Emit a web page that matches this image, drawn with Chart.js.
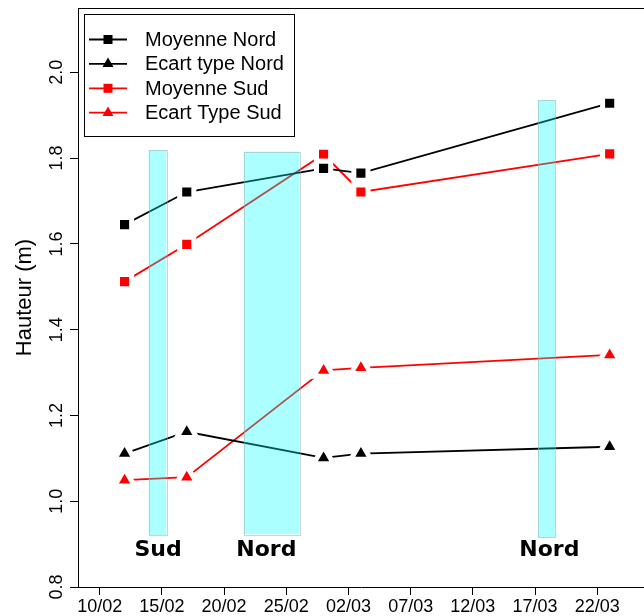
<!DOCTYPE html>
<html>
<head>
<meta charset="utf-8">
<script src="https://cdn.jsdelivr.net/npm/chart.js@4.4.1/dist/chart.umd.min.js"></script>
<style>
  html, body { margin: 0; padding: 0; background: #fff; overflow: hidden; }
  #wrap { width: 644px; height: 616px; }
</style>
</head>
<body>
<div id="wrap"><canvas id="hauteurChart" width="644" height="616"></canvas></div>
<script>
// days counted from 01/02 (so 12/02 = 11, 03/03 = 30)
var days = [11, 16, 27, 30, 50];
var moyenneNord = [1.645, 1.721, 1.776, 1.765, 1.928];
var ecartNord = [1.111, 1.162, 1.101, 1.111, 1.127];
var moyenneSud = [1.512, 1.599, 1.809, 1.721, 1.810];
var ecartSud = [1.049, 1.056, 1.305, 1.311, 1.341];

var xTickDays = [9, 14, 19, 24, 29, 34, 39, 44, 49];
var xTickLabels = ["10/02", "15/02", "20/02", "25/02", "02/03", "07/03", "12/03", "17/03", "22/03"];
var yTicks = [0.8, 1.0, 1.2, 1.4, 1.6, 1.8, 2.0];

// shaded periods
var zoneStart = [12.94, 20.58, 44.23];
var zoneEnd = [14.36, 25.05, 45.63];
var zoneTop = [1.819, 1.815, 1.935];
var zoneBottom = [0.921, 0.923, 0.915];
var zoneLabels = ["Sud", "Nord", "Nord"];
var zoneLabelX = [13.69, 22.4, 45.15];
var zoneLabelY = 0.886;

function pts(ys) {
  return days.map(function (d, i) { return { x: d, y: ys[i] }; });
}

function serie(label, ys, color, style, radius) {
  return {
    label: label,
    data: pts(ys),
    borderColor: color,
    backgroundColor: color,
    borderWidth: 1.8,
    pointStyle: style,
    pointRadius: radius,
    pointBackgroundColor: color,
    pointBorderColor: "#fff",
    pointBorderWidth: 5,
    tension: 0,
  };
}

// cyan zones drawn over the lines, with their labels
var zonesPlugin = {
  id: "zones",
  afterDatasetsDraw: function (chart) {
    var ctx = chart.ctx, x = chart.scales.x, y = chart.scales.y;
    ctx.save();
    for (var i = 0; i < zoneStart.length; i++) {
      var x0 = x.getPixelForValue(zoneStart[i]);
      var x1 = x.getPixelForValue(zoneEnd[i]);
      var y0 = y.getPixelForValue(zoneTop[i]);
      var y1 = y.getPixelForValue(zoneBottom[i]);
      ctx.fillStyle = "rgba(0, 255, 255, 0.33)";
      ctx.fillRect(x0, y0, x1 - x0, y1 - y0);
      ctx.setLineDash([1, 1]);
      ctx.strokeStyle = "#9aa";
      ctx.lineWidth = 1;
      ctx.strokeRect(Math.round(x0) + 0.5, Math.round(y0) + 0.5, Math.round(x1 - x0), Math.round(y1 - y0));
      ctx.setLineDash([]);
      ctx.fillStyle = "#000";
      ctx.font = "bold 22px 'DejaVu Sans'";
      ctx.textAlign = "center";
      ctx.textBaseline = "middle";
      ctx.fillText(zoneLabels[i], x.getPixelForValue(zoneLabelX[i]), y.getPixelForValue(zoneLabelY));
    }
    ctx.restore();
  },
};

// top edge of the box + legend
var boxLegendPlugin = {
  id: "boxLegend",
  afterDraw: function (chart) {
    var ctx = chart.ctx, a = chart.chartArea;
    ctx.save();
    ctx.strokeStyle = "#000";
    ctx.lineWidth = 1;
    ctx.beginPath();
    ctx.moveTo(a.left, Math.round(a.top) + 0.5);
    ctx.lineTo(a.right, Math.round(a.top) + 0.5);
    ctx.stroke();

    ctx.fillStyle = "#fff";
    ctx.fillRect(84.5, 14.5, 210, 122);
    ctx.strokeRect(84.5, 14.5, 210, 122);
    ctx.font = "20px 'Liberation Sans'";
    ctx.textAlign = "left";
    ctx.textBaseline = "middle";
    chart.data.datasets.forEach(function (ds, i) {
      var ly = 39.5 + i * 24.4;
      ctx.strokeStyle = ds.borderColor;
      ctx.lineWidth = 1.8;
      ctx.beginPath();
      ctx.moveTo(89, ly);
      ctx.lineTo(127, ly);
      ctx.stroke();
      ctx.fillStyle = ds.borderColor;
      if (ds.pointStyle === "rect") {
        ctx.fillRect(103.5, ly - 4.5, 9, 9);
      } else {
        ctx.beginPath();
        ctx.moveTo(108, ly - 6.3);
        ctx.lineTo(113.5, ly + 3.2);
        ctx.lineTo(102.5, ly + 3.2);
        ctx.closePath();
        ctx.fill();
      }
      ctx.fillStyle = "#000";
      ctx.fillText(ds.label, 145, ly + 1);
    });
    ctx.restore();
  },
};

Chart.defaults.font.family = "'Liberation Sans', Arial, sans-serif";
Chart.defaults.color = "#000";

var ctx = document.getElementById("hauteurChart").getContext("2d");
var hauteurChart = new Chart(ctx, {
  type: "line",
  data: {
    datasets: [
      serie("Moyenne Nord", moyenneNord, "#000000", "rect", 10),
      serie("Ecart type Nord", ecartNord, "#000000", "triangle", 11.5),
      serie("Moyenne Sud", moyenneSud, "#ff0000", "rect", 10),
      serie("Ecart Type Sud", ecartSud, "#ff0000", "triangle", 11.5),
    ],
  },
  options: {
    responsive: false,
    animation: false,
    devicePixelRatio: 1,
    layout: { autoPadding: false, padding: { top: 8, right: 0, bottom: 0, left: 0 } },
    plugins: { legend: { display: false }, tooltip: { enabled: false } },
    scales: {
      x: {
        type: "linear",
        min: 7.256,
        max: 52.76,
        afterBuildTicks: function (scale) {
          scale.ticks = xTickDays.map(function (v) { return { value: v }; });
        },
        afterFit: function (scale) {
          scale.height = 29;
          scale.paddingLeft = 0;
          scale.paddingRight = 0;
        },
        ticks: {
          font: { size: 18 },
          padding: 1,
          maxRotation: 0,
          autoSkip: false,
          callback: function (v) { return xTickLabels[xTickDays.indexOf(v)]; },
        },
        grid: { drawOnChartArea: false, drawTicks: true, tickLength: 8, color: "#000" },
        border: { display: true, color: "#000", width: 1 },
      },
      y: {
        min: 0.8,
        max: 2.15,
        afterBuildTicks: function (scale) {
          scale.ticks = yTicks.map(function (v) { return { value: v }; });
        },
        afterFit: function (scale) {
          scale.width = 78;
          scale.paddingTop = 0;
          scale.paddingBottom = 0;
        },
        ticks: {
          font: { size: 18 },
          padding: 0,
          minRotation: 90,
          maxRotation: 90,
          crossAlign: "center",
          autoSkip: false,
          callback: function (v) { return v.toFixed(1); },
        },
        grid: { drawOnChartArea: false, drawTicks: true, tickLength: 8, color: "#000" },
        border: { display: true, color: "#000", width: 1 },
        title: {
          display: true,
          text: "Hauteur (m)",
          font: { size: 22 },
          padding: { top: 12, bottom: 0 },
        },
      },
    },
  },
  plugins: [zonesPlugin, boxLegendPlugin],
});
</script>
</body>
</html>
